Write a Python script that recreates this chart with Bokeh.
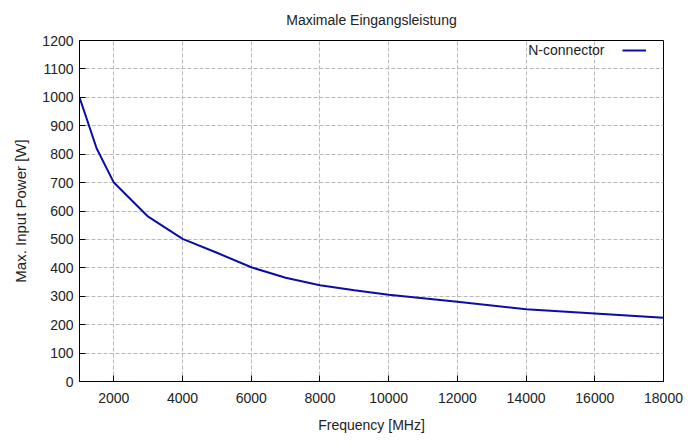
from bokeh.plotting import figure
from bokeh.models import Range1d, FixedTicker, Legend, LegendItem, Label, Title
from bokeh.core.properties import value
from bokeh.embed import file_html
from bokeh.resources import INLINE

# Data
frequency_mhz = [1000, 1500, 2000, 3000, 4000, 5000, 6000, 7000, 8000, 9000,
                 10000, 12000, 14000, 16000, 18000]
max_power_w = [1000, 820, 700, 580, 502, 453, 402, 365, 339, 321,
               305, 281, 254, 239, 224]
x_ticks = [2000, 4000, 6000, 8000, 10000, 12000, 14000, 16000, 18000]
y_ticks = list(range(0, 1300, 100))
x_min, x_max = 1000, 18000
y_min, y_max = 0, 1200
series_name = "N-connector"
chart_title = "Maximale Eingangsleistung"

FONT = "Liberation Sans"
TXT = "#222222"

p = figure(width=692, height=439, output_backend="svg", toolbar_location=None,
           x_range=Range1d(x_min, x_max), y_range=Range1d(y_min, y_max),
           min_border_left=79, min_border_right=29, min_border_top=40,
           min_border_bottom=58)

p.title = Title(text=chart_title, align="center", vertical_align="top",
                text_font=FONT, text_font_size="14px", text_font_style="normal",
                text_color=TXT, offset=0, standoff=21)

p.outline_line_color = "black"
p.outline_line_width = 1

for ax, ticks, label in [(p.xaxis[0], x_ticks, "Frequency [MHz]"),
                         (p.yaxis[0], y_ticks, "Max. Input Power [W]")]:
    ax.ticker = FixedTicker(ticks=ticks)
    ax.axis_label = label
    ax.axis_label_text_font = FONT
    ax.axis_label_text_font_size = "14px"
    ax.axis_label_text_font_style = "normal"
    ax.axis_label_text_color = TXT
    ax.major_label_text_font = FONT
    ax.major_label_text_font_size = "14px"
    ax.major_label_text_color = TXT
    ax.major_tick_in = 6
    ax.major_tick_out = 0
    ax.minor_tick_in = 0
    ax.minor_tick_out = 0
    ax.axis_line_color = "black"
    ax.major_tick_line_color = "black"

p.yaxis[0].axis_label_text_font_size = "15px"
p.xaxis[0].major_label_standoff = 11
p.xaxis[0].axis_label_standoff = 11
p.yaxis[0].major_label_standoff = 6
p.yaxis[0].axis_label_standoff = 10

for g in (p.xgrid[0], p.ygrid[0]):
    g.grid_line_color = "#b8b8b8"
    g.grid_line_dash = "4 2"
    g.grid_line_width = 1
p.xgrid[0].ticker = FixedTicker(ticks=x_ticks)
p.ygrid[0].ticker = FixedTicker(ticks=y_ticks)

r = p.line(frequency_mhz, max_power_w, line_color="#0c0ca8", line_width=2)

# gnuplot-style key: text on the left, line sample on the right
legend = Legend(items=[LegendItem(label=value(""), renderers=[r])],
                location=(543, 321), padding=0, margin=0, spacing=0,
                glyph_width=24, glyph_height=20, label_height=20, label_width=0,
                label_standoff=0,
                label_text_font=FONT, label_text_font_size="14px",
                label_text_color=TXT,
                border_line_color=None, background_fill_alpha=0)
p.add_layout(legend, "center")

key_text = Label(x=x_max, y=y_max, x_offset=-59, y_offset=-9, text=series_name,
                 text_align="right", text_baseline="middle",
                 text_font=FONT, text_font_size="14px", text_color=TXT)
p.add_layout(key_text)

open("out.html", "w").write(file_html(p, INLINE))
